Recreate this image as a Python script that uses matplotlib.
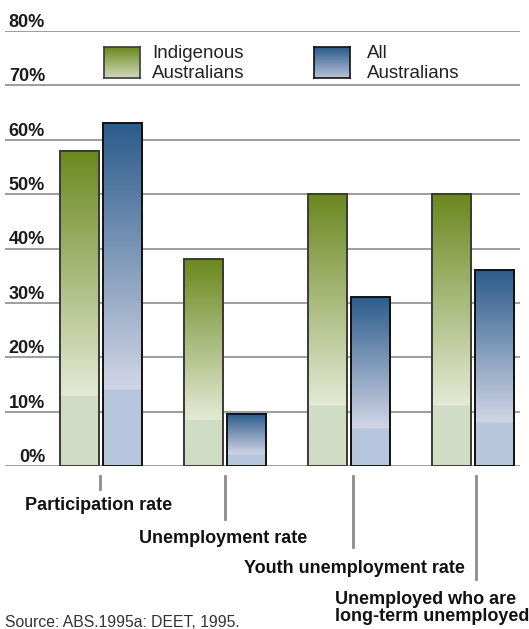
import numpy as np
import matplotlib
matplotlib.use('Agg')
import matplotlib.pyplot as plt
from matplotlib.colors import LinearSegmentedColormap
from matplotlib.patches import Rectangle

categories = ['Participation rate', 'Unemployment rate', 'Youth unemployment rate',
              'Unemployed who are\nlong-term unemployed']
indigenous = [58, 38, 50, 50]
all_aus = [63, 9.5, 31, 36]
yticks = [0, 10, 20, 30, 40, 50, 60, 70, 80]

plt.rcParams['font.family'] = ['Liberation Sans', 'DejaVu Sans']

W, H = 529, 629
fig = plt.figure(figsize=(W / 100, H / 100), dpi=100)

# axes placed in pixel terms: 0% at y=466, 80% at y=31, x from 5 to 520
x0, x1 = 5, 520
y0, y1 = 466, 31
ax = fig.add_axes([x0 / W, 1 - y0 / H, (x1 - x0) / W, (y0 - y1) / H])
ax.axis('off')


def grad_cmap(top, light, flat, name):
    # bottom ~22% of the bar is a flat pale band, gradient above it
    return LinearSegmentedColormap.from_list(name, [
        (0.0, flat), (0.22, flat), (0.2201, light), (1.0, top)])


green_cm = grad_cmap('#6c881f', '#e4ead6', '#d0dcc4', 'green_bar')
blue_cm = grad_cmap('#2c5c8c', '#d2d6e6', '#b6c6dc', 'blue_bar')

for yv in yticks:
    ax.axhline(yv, color='#8c8c8c', lw=1.2, zorder=1)

# y labels sit just above their gridline, right edge at x=45px
for yv in yticks:
    fig.text(45 / W, 1 - (y0 - yv * (y0 - y1) / 80 - 4) / H, f'{yv}%',
             fontsize=13, fontweight='bold', color='#1a1a1a',
             ha='right', va='baseline')

bw = 0.315
off = 0.177
grad = np.linspace(0, 1, 256).reshape(-1, 1)


def gradient_bar(xc, h, cmap, edge):
    left = xc - bw / 2
    ax.imshow(grad, cmap=cmap, origin='lower', aspect='auto',
              extent=(left, left + bw, 0, h), zorder=2, interpolation='bilinear')
    ax.add_patch(Rectangle((left, 0), bw, h, fill=False, edgecolor=edge, lw=1.4, zorder=4))


for i in range(len(categories)):
    gradient_bar(i - off, indigenous[i], green_cm, '#3a3a3a')
    gradient_bar(i + off, all_aus[i], blue_cm, '#111111')

ax.set_xlim((x0 - 101) / 124, (x1 - 101) / 124)
ax.set_ylim(0, 80)

# legend swatches
for bx, tx, cm, edge, label in [(104, 152, green_cm, '#3a3a3a', 'Indigenous\nAustralians'),
                                (314, 367, blue_cm, '#111111', 'All\nAustralians')]:
    sax = fig.add_axes([bx / W, 1 - 78 / H, 36 / W, 31 / H])
    sax.imshow(np.linspace(0.35, 1, 64).reshape(-1, 1), cmap=cm, origin='lower',
               aspect='auto', vmin=0, vmax=1)
    sax.set_xticks([])
    sax.set_yticks([])
    for s in sax.spines.values():
        s.set_color(edge)
        s.set_linewidth(1.2)
    fig.text(tx / W, 1 - 78 / H, label, fontsize=13.5, color='#222222',
             ha='left', va='baseline', linespacing=1.23)

# category pointer lines and labels
tick_x = [100, 225, 353, 476]
tick_bottom = [489, 519, 547, 579]
label_x = [99, 223, 354, 335]
label_y = [510, 543, 573, 621]
label_ha = ['center', 'center', 'center', 'left']
for px, pb, lx, ly, ha, cat in zip(tick_x, tick_bottom, label_x, label_y, label_ha, categories):
    fig.add_artist(plt.Line2D([px / W, px / W], [1 - 476 / H, 1 - pb / H],
                              color='#8c8c8c', lw=2))
    fig.text(lx / W, 1 - ly / H, cat, fontsize=13, fontweight='bold',
             color='#111111', ha=ha, va='baseline', linespacing=1.0,
             multialignment='left')

fig.text(5 / W, 1 - 627 / H, 'Source: ABS.1995a: DEET, 1995.', fontsize=11.3,
         color='#333333', ha='left', va='baseline')

fig.savefig('out.png', dpi=100)
